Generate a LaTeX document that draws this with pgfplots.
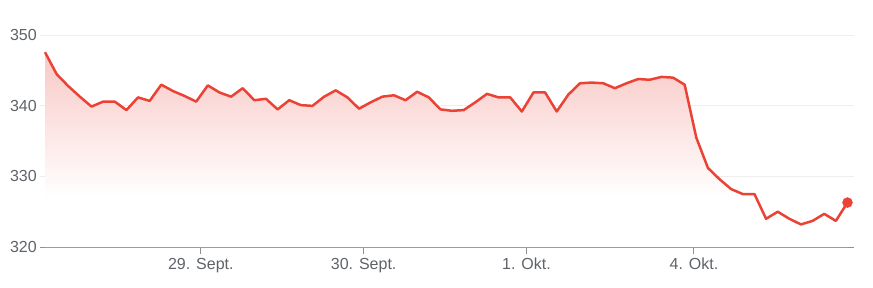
\documentclass[border=0pt]{standalone}
\usepackage{pgfplots}
\usepackage{pgfplotstable}
\pgfplotsset{compat=1.18}
\usepackage{fontspec}
\setmainfont{Liberation Sans}
\definecolor{gred}{RGB}{234,67,53}
\definecolor{pinktop}{RGB}{248,200,197}
\definecolor{lbl}{RGB}{95,99,104}
\definecolor{axc}{RGB}{140,145,150}
\definecolor{grd}{RGB}{238,238,238}
\pgfdeclareverticalshading{fade}{100bp}{color(0bp)=(white); color(37.7bp)=(white); color(75bp)=(pinktop); color(100bp)=(pinktop)}
\pgfplotstableread{
x y
0 347.6
1 344.5
2 342.8
3 341.3
4 339.9
5 340.6
6 340.6
7 339.4
8 341.2
9 340.7
10 343.0
11 342.1
12 341.4
13 340.6
14 342.9
15 341.9
16 341.3
17 342.5
18 340.8
19 341.0
20 339.5
21 340.8
22 340.1
23 340.0
24 341.3
25 342.2
26 341.2
27 339.6
28 340.5
29 341.3
30 341.5
31 340.8
32 342.0
33 341.2
34 339.5
35 339.3
36 339.4
37 340.5
38 341.7
39 341.2
40 341.2
41 339.2
42 341.9
43 341.9
44 339.2
45 341.6
46 343.2
47 343.3
48 343.2
49 342.5
50 343.2
51 343.8
52 343.7
53 344.1
54 344.0
55 343.0
56 335.5
57 331.2
58 329.6
59 328.2
60 327.5
61 327.5
62 324.0
63 325.0
64 324.0
65 323.2
66 323.7
67 324.7
68 323.7
69 326.3
}\datatable
\begin{document}
\begin{tikzpicture}
\useasboundingbox (-40pt,-40pt) rectangle (833pt,247pt);
\begin{axis}[
  at={(0,0)}, anchor=south west,
  scale only axis, width=814pt, height=247pt,
  xmin=-0.43, xmax=69.56, ymin=320, ymax=355,
  axis lines*=left,
  x axis line style={draw=axc, line width=1pt},
  y axis line style={draw=none},
  xtick={13.4,27.4,41.4,55.8},
  xticklabels={29. Sept., 30. Sept., 1. Okt., 4. Okt.},
  ytick={320,330,340,350},
  ymajorgrids,
  grid style={draw=grd, line width=0.8pt},
  tick align=outside,
  major tick length=7pt,
  xtick style={draw=axc, line width=1pt},
  ytick style={draw=none},
  tick label style={font=\fontsize{16}{19}\selectfont, text=lbl},
  /pgf/number format/assume math mode=true,
  yticklabel style={anchor=east, inner sep=0pt, xshift=4pt},
  xticklabel style={anchor=north, inner sep=0pt, yshift=-4pt},
]
\addplot[draw=none, shade, shading=fade] table[x=x,y=y] {\datatable} \closedcycle;
\addplot[gred, line width=2.5pt, line join=round, mark=none] table[x=x,y=y] {\datatable};
\addplot[only marks, mark=*, mark size=5pt, gred] coordinates {(69,326.3)};
\end{axis}
\end{tikzpicture}
\end{document}
